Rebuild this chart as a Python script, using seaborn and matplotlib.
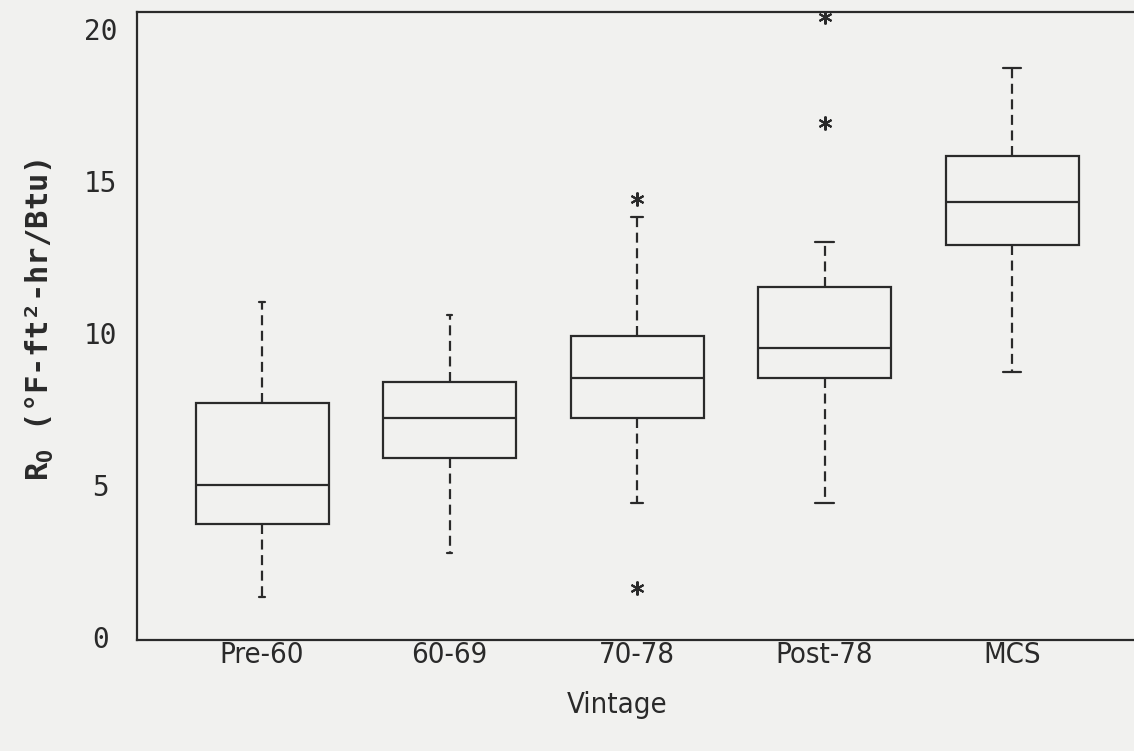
import matplotlib
matplotlib.use("Agg")
import matplotlib.pyplot as plt
import numpy as np
import pandas as pd
import seaborn as sns

# ---- data (five-number summaries per vintage) ----
vintages = ["Pre-60", "60-69", "70-78", "Post-78", "MCS"]
whisker_low = [1.3, 2.75, 4.4, 4.4, 8.7]
q1 = [3.7, 5.9, 7.2, 8.5, 12.9]
median = [5.0, 7.2, 8.5, 9.5, 14.3]
q3 = [7.7, 8.4, 9.9, 11.5, 15.8]
whisker_high = [11.0, 10.6, 13.8, 13.0, 18.7]
outliers_low = [[], [], [1.6], [], []]
outliers_high = [[], [], [14.4], [16.9, 20.4], []]
y_ticks = [0, 5, 10, 15, 20]


def summary_sample(lo, a1, m, a3, hi, lows, highs):
    """Build a small sample whose boxplot statistics equal the summary."""
    L = len(lows) + 1
    H = len(highs) + 1
    a = max(L, 2)
    while True:
        b = L + a - H
        if (L + a) % 2 == 0 and b >= (L + a) / 2 and b >= 1:
            break
        a += 1
    return sorted(lows) + [lo] + [a1] * a + [m] + [a3] * b + [hi] + sorted(highs)


rows = []
for i, v in enumerate(vintages):
    for val in summary_sample(whisker_low[i], q1[i], median[i], q3[i],
                              whisker_high[i], outliers_low[i], outliers_high[i]):
        rows.append({"Vintage": v, "R": val})
df = pd.DataFrame(rows)

# ---- style ----
sns.set_style("white")
bg = "#f1f1ef"
ink = "#2a2a2a"
plt.rcParams["font.family"] = ["DejaVu Sans Mono", "DejaVu Sans"]
plt.rcParams["mathtext.fontset"] = "custom"
plt.rcParams["mathtext.rm"] = "DejaVu Sans Mono"

fig = plt.figure(figsize=(11.34, 7.51), dpi=100, facecolor=bg)
ax = fig.add_axes([137 / 1134, 111 / 751, 1 - 137 / 1134, 628 / 751])
ax.set_facecolor(bg)

sns.boxplot(
    data=df, x="Vintage", y="R", order=vintages, ax=ax,
    width=0.71, whis=1.5, color="white", linecolor=ink, linewidth=1.6,
    boxprops=dict(facecolor=bg, edgecolor=ink, linewidth=1.6),
    medianprops=dict(color=ink, linewidth=1.6),
    whiskerprops=dict(color=ink, linewidth=1.6, linestyle=(0, (4.5, 2.5))),
    capprops=dict(color=ink, linewidth=1.6),
    capwidths=[0.03, 0.03, 0.06, 0.1, 0.1],
    flierprops=dict(marker=(6, 2, 0), markersize=10, markeredgewidth=1.5,
                    markeredgecolor=ink, markerfacecolor=ink),
)

ax.set_xlim(-0.667, 4.65)
ax.set_ylim(-0.1, 20.55)
ax.set_yticks(y_ticks)
ax.set_yticklabels([str(t) for t in y_ticks], ha="center", fontsize=20, color=ink)
ax.tick_params(axis="y", length=0, pad=26)
ax.tick_params(axis="x", length=0, pad=1)
for lab in ax.get_xticklabels():
    lab.set_family("DejaVu Sans")
    lab.set_fontstretch("condensed")
    lab.set_fontsize(21)
    lab.set_color(ink)

ax.set_xlabel("")
ax.set_ylabel("")
for side in ["left", "top", "bottom"]:
    ax.spines[side].set_visible(True)
    ax.spines[side].set_color(ink)
    ax.spines[side].set_linewidth(1.6)
ax.spines["right"].set_visible(False)

fig.text(617 / 1134, 1 - 705 / 751, "Vintage", ha="center", va="center",
         fontsize=21, color=ink, family="DejaVu Sans", fontstretch="condensed")
fig.text(40 / 1134, 1 - 320 / 751, r"R$_\mathregular{O}$ (°F-ft²-hr/Btu)",
         rotation=90, ha="center", va="center", fontsize=22, color=ink,
         fontweight="bold")

fig.savefig("out.png", dpi=100, facecolor=bg)
